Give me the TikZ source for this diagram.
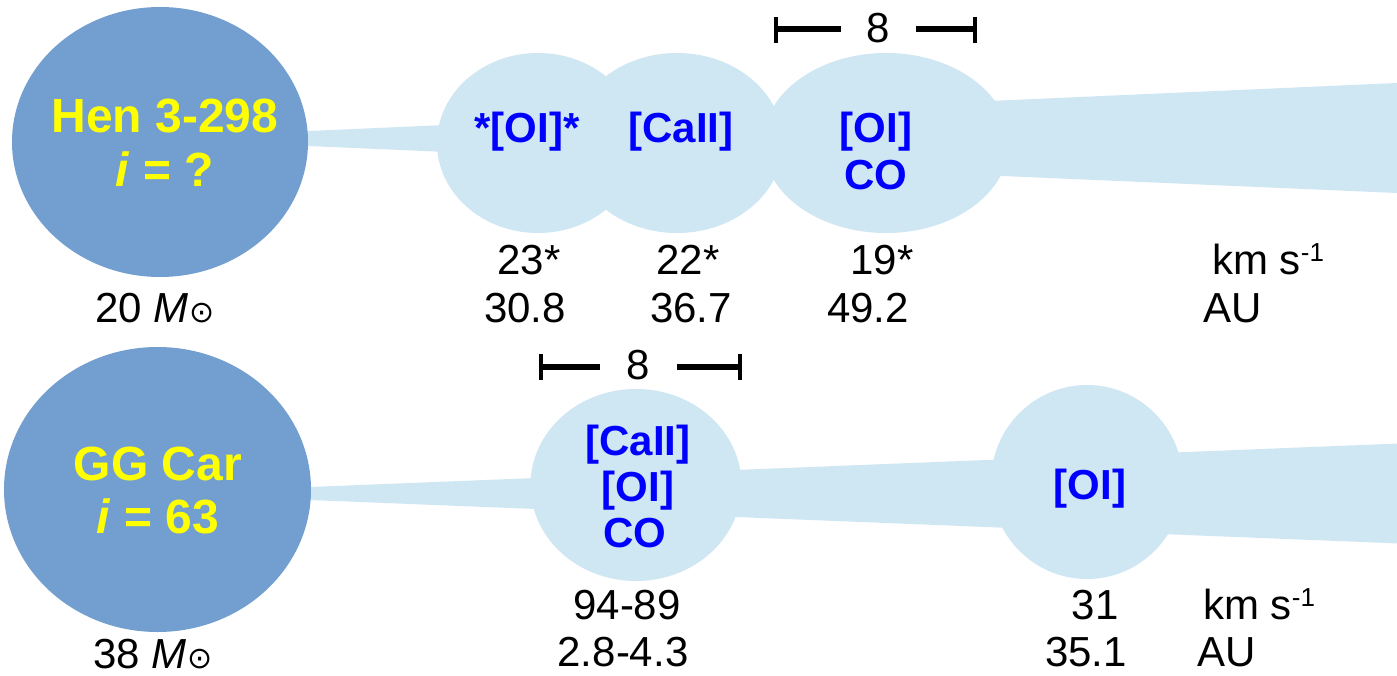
\documentclass[tikz,border=0pt]{standalone}
\usepackage{fontspec}
\setmainfont{Liberation Sans}
\newfontfamily\symfnt{DejaVu Sans}
\usetikzlibrary{shapes.geometric}
\definecolor{starblue}{RGB}{114,159,207}
\definecolor{jetblue}{RGB}{207,230,243}
\definecolor{linec}{RGB}{0,0,255}
\definecolor{ylw}{RGB}{255,255,0}
\newcommand{\msun}{\textit{M}\kern1pt{\symfnt\fontsize{30}{30}\selectfont ⊙}}
\newcommand{\kms}{km s\raisebox{13pt}{\fontsize{26}{26}\selectfont -1}}
\begin{document}
\begin{tikzpicture}[x=1pt,y=-1pt,
  starshape/.style={ellipse, fill=starblue, inner sep=0pt},
  startext/.style={text=ylw, font=\fontsize{48}{54}\selectfont\bfseries, anchor=base, inner sep=0pt},
  blob/.style={ellipse, fill=jetblue, inner sep=0pt},
  jet/.style={fill=jetblue},
  lbl/.style={text=linec, font=\fontsize{42}{47}\selectfont\bfseries, anchor=base, inner sep=0pt},
  num/.style={font=\fontsize{42}{47}\selectfont, anchor=base, inner sep=0pt},
  numl/.style={num, anchor=base west},
  barh/.style={line width=6pt},
  barv/.style={line width=3.5pt}]

\useasboundingbox (0,0) rectangle (1397,676);
\fill[white] (0,0) rectangle (1397,676);

% jets
\coordinate (j1a) at (250,133.6);
\coordinate (j1b) at (1397,83);
\coordinate (j1c) at (1397,193);
\coordinate (j1d) at (250,143.5);
\fill[jet] (j1a) -- (j1b) -- (j1c) -- (j1d) -- cycle;
\coordinate (j2a) at (250,489.4);
\coordinate (j2b) at (1397,443.6);
\coordinate (j2c) at (1397,543.4);
\coordinate (j2d) at (250,497.6);
\fill[jet] (j2a) -- (j2b) -- (j2c) -- (j2d) -- cycle;

% knots
\node[blob, minimum width=202, minimum height=180] (b1) at (538,143) {};
\node[blob, minimum width=212, minimum height=180] (b2) at (677,143) {};
\node[blob, minimum width=246, minimum height=180] (b3) at (886,143) {};
\node[blob, minimum width=211, minimum height=192] (c1) at (636,485) {};
\node[blob, minimum width=192, minimum height=194] (c2) at (1087,482) {};

% stars
\node[starshape, minimum width=296, minimum height=270] (hen) at (160,142) {};
\node[starshape, minimum width=307, minimum height=285] (gg) at (157.5,489.5) {};
\node[startext] (hen1) at (165,133) {Hen 3-298};
\node[startext] (hen2) at (165,187) {\textit{i} = ?};
\node[startext] (gg1) at (158,480) {GG Car};
\node[startext] (gg2) at (158,533) {\textit{i} = 63};

% knot labels
\node[lbl] (l1) at (527,143) {*[OI]*};
\node[lbl] (l2) at (681,143) {[CaII]};
\node[lbl] (l3) at (876,143) {[OI]};
\node[lbl] (l4) at (876,190) {CO};
\node[lbl] (l5) at (638,455) {[CaII]};
\node[lbl] (l6) at (638,501) {[OI]};
\node[lbl] (l7) at (635,547) {CO};
\node[lbl] (l8) at (1090,499) {[OI]};

% numbers top
\node[num] (n1) at (529,275) {23*};
\node[num] (n2) at (688,275) {22*};
\node[num] (n3) at (882,275) {19*};
\node[num] (n4) at (525,322) {30.8};
\node[num] (n5) at (691,322) {36.7};
\node[num] (n6) at (868,322) {49.2};
\node[numl] (u1) at (1212,275) {\kms};
\node[numl] (u2) at (1203,322) {AU};
\node[num] (m1) at (155,322) {20 \msun};

% numbers bottom
\node[num] (n7) at (627,619) {94-89};
\node[num] (n8) at (623,666) {2.8-4.3};
\node[num] (n9) at (1095,619) {31};
\node[num] (n10) at (1086,666) {35.1};
\node[numl] (u3) at (1203,619) {\kms};
\node[numl] (u4) at (1197,666) {AU};
\node[num] (m2) at (153,668) {38 \msun};

% scale bars
\node[num] (s1) at (878,43) {8};
\coordinate (t1) at (776,29);
\coordinate (t2) at (841,29);
\coordinate (t3) at (916,29);
\coordinate (t4) at (975,29);
\coordinate (t1u) at (776,17);
\coordinate (t1d) at (776,43);
\coordinate (t4u) at (975,17);
\coordinate (t4d) at (975,43);
\draw[barh] (t1) -- (t2);
\draw[barh] (t3) -- (t4);
\draw[barv] (t1u) -- (t1d);
\draw[barv] (t4u) -- (t4d);

\node[num] (s2) at (638,379) {8};
\coordinate (r1) at (541,367);
\coordinate (r2) at (600,367);
\coordinate (r3) at (677,367);
\coordinate (r4) at (740,367);
\coordinate (r1u) at (541,354);
\coordinate (r1d) at (541,380);
\coordinate (r4u) at (740,354);
\coordinate (r4d) at (740,380);
\draw[barh] (r1) -- (r2);
\draw[barh] (r3) -- (r4);
\draw[barv] (r1u) -- (r1d);
\draw[barv] (r4u) -- (r4d);
\end{tikzpicture}
\end{document}
